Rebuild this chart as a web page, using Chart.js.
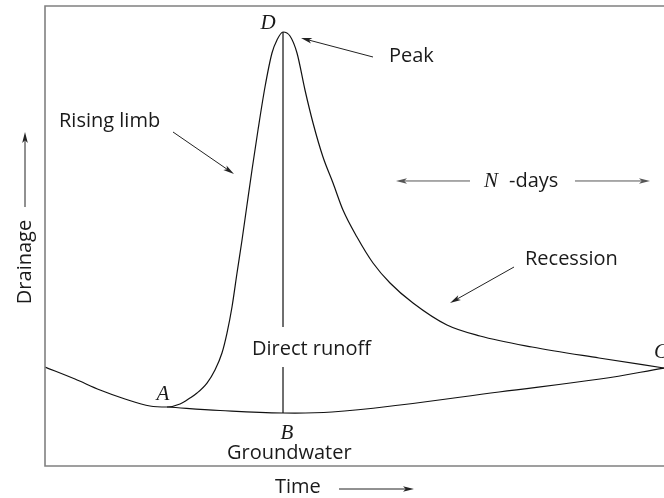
<!DOCTYPE html>
<html>
<head>
<meta charset="utf-8">
<script src="https://cdn.jsdelivr.net/npm/chart.js@4/dist/chart.umd.min.js"></script>
<style>
  html, body { margin: 0; padding: 0; background: #ffffff; }
  #c { display: block; }
</style>
</head>
<body>
<canvas id="c" width="664" height="498"></canvas>
<script>
// ---- Data (time 0..100, drainage 0..100, arbitrary units) ----
const hydroTime  = [0, 4.85, 8.89, 12.92, 16.96, 19.71, 21.81, 23.42, 24.56, 26.17, 27.46, 28.59, 29.40, 30.21, 31.02, 31.83, 32.63, 33.44, 34.41, 35.54, 36.67, 37.48, 38.45, 39.58, 40.71, 42.00, 43.30, 44.91, 46.53, 48.14, 50.40, 52.99, 55.74, 59.45, 64.94, 70.27, 78.68, 89.50, 100];
const hydroFlow  = [21.52, 18.91, 16.52, 14.57, 13.04, 12.83, 13.48, 14.78, 15.87, 18.04, 20.87, 24.57, 28.91, 34.57, 41.96, 49.13, 56.74, 64.35, 73.04, 82.39, 89.78, 92.61, 94.35, 93.48, 89.78, 81.74, 74.57, 67.17, 61.52, 55.65, 49.78, 44.13, 39.78, 35.43, 30.65, 28.26, 25.87, 23.48, 21.30];
const baseTime   = [19.71, 28.27, 38.45, 46.37, 57.35, 73.34, 89.66, 100];
const baseFlow   = [12.83, 12.07, 11.52, 11.74, 13.26, 16.09, 18.91, 21.30];
const peakTime   = 38.45;
const peakFlow   = 94.35;
const peakBase   = 11.52;
const gapTop     = 30.2;   // vertical line broken for the "Direct runoff" label
const gapBottom  = 21.5;

const hydroData = hydroTime.map((t, i) => ({ x: t, y: hydroFlow[i] }));
const baseData  = baseTime.map((t, i) => ({ x: t, y: baseFlow[i] }));
const peakData  = [
  { x: peakTime, y: peakFlow }, { x: peakTime, y: gapTop },
  { x: peakTime, y: null },
  { x: peakTime, y: gapBottom }, { x: peakTime, y: peakBase }
];

// ---- Annotation layout (in data units) ----
const SANS = '20px "Open Sans", sans-serif';
const SERIF_IT = 'italic 21px "Liberation Serif", "DejaVu Serif", serif';
const labels = [
  { text: 'Rising limb',   x: 2.26,  y: 73.7,  font: SANS, align: 'left' },
  { text: 'Peak',          x: 55.57, y: 87.83, font: SANS, align: 'left' },
  { text: 'D',             x: 36.03, y: 94.9,  font: SERIF_IT, align: 'center' },
  { text: 'N',             x: 70.92, y: 60.65, font: SERIF_IT, align: 'left' },
  { text: '-days',         x: 74.96, y: 60.65, font: SANS, align: 'left' },
  { text: 'Recession',     x: 77.54, y: 43.7,  font: SANS, align: 'left' },
  { text: 'Direct runoff', x: 33.44, y: 24.13, font: SANS, align: 'left' },
  { text: 'A',             x: 19.06, y: 14.35, font: SERIF_IT, align: 'center' },
  { text: 'B',             x: 39.10, y: 5.87,  font: SERIF_IT, align: 'center' },
  { text: 'Groundwater',   x: 29.40, y: 1.52,  font: SANS, align: 'left' },
  { text: 'C',             x: 98.38, y: 23.48, font: SERIF_IT, align: 'left' },
  { text: 'Time',          x: 37.16, y: -5.87, font: SANS, align: 'left' },
  { text: 'Drainage',      x: -2.26, y: 44.35, font: SANS, align: 'center', rotate: true }
];
const arrows = [
  { x1: 52.99, y1: 88.91, x2: 41.36, y2: 93.04, color: '#222' },
  { x1: 20.68, y1: 72.61, x2: 30.53, y2: 63.48, color: '#222' },
  { x1: 68.66, y1: 61.96, x2: 56.70, y2: 61.96, color: '#555' },
  { x1: 85.62, y1: 61.96, x2: 97.74, y2: 61.96, color: '#555' },
  { x1: 75.77, y1: 43.26, x2: 65.43, y2: 35.43, color: '#222' },
  { x1: -3.23, y1: 56.30, x2: -3.23, y2: 72.61, color: '#222' },
  { x1: 47.50, y1: -5.0,  x2: 59.61, y2: -5.0,  color: '#222' }
];

const decor = {
  id: 'decor',
  afterDatasetsDraw(chart) {
    const { ctx, chartArea: a, scales } = chart;
    const X = v => scales.x.getPixelForValue(v);
    const Y = v => scales.y.getPixelForValue(v);
    ctx.save();
    // frame: left, top, bottom
    ctx.strokeStyle = '#808080';
    ctx.lineWidth = 1.6;
    ctx.beginPath();
    ctx.moveTo(a.right + 2, a.top);
    ctx.lineTo(a.left, a.top);
    ctx.lineTo(a.left, a.bottom);
    ctx.lineTo(a.right + 2, a.bottom);
    ctx.stroke();
    // arrows
    arrows.forEach(ar => {
      const x1 = X(ar.x1), y1 = Y(ar.y1), x2 = X(ar.x2), y2 = Y(ar.y2);
      const ang = Math.atan2(y2 - y1, x2 - x1);
      const L = 11, W = 2.8;
      ctx.strokeStyle = ar.color;
      ctx.fillStyle = ar.color;
      ctx.lineWidth = 1;
      ctx.beginPath();
      ctx.moveTo(x1, y1);
      ctx.lineTo(x2 - Math.cos(ang) * L * 0.6, y2 - Math.sin(ang) * L * 0.6);
      ctx.stroke();
      ctx.beginPath();
      ctx.moveTo(x2, y2);
      ctx.lineTo(x2 - Math.cos(ang) * L - Math.sin(ang) * W, y2 - Math.sin(ang) * L + Math.cos(ang) * W);
      ctx.lineTo(x2 - Math.cos(ang) * L * 0.75, y2 - Math.sin(ang) * L * 0.75);
      ctx.lineTo(x2 - Math.cos(ang) * L + Math.sin(ang) * W, y2 - Math.sin(ang) * L - Math.cos(ang) * W);
      ctx.closePath();
      ctx.fill();
    });
    // labels
    ctx.fillStyle = '#1a1a1a';
    ctx.textBaseline = 'alphabetic';
    labels.forEach(l => {
      ctx.font = l.font;
      ctx.textAlign = l.align;
      if (l.rotate) {
        ctx.save();
        ctx.translate(X(l.x), Y(l.y));
        ctx.rotate(-Math.PI / 2);
        ctx.fillText(l.text, 0, 0);
        ctx.restore();
      } else {
        ctx.fillText(l.text, X(l.x), Y(l.y));
      }
    });
    ctx.restore();
  }
};

new Chart(document.getElementById('c'), {
  type: 'line',
  data: {
    datasets: [
      { label: 'Hydrograph', data: hydroData, borderColor: '#111', borderWidth: 1.2,
        pointRadius: 0, cubicInterpolationMode: 'monotone', fill: false },
      { label: 'Baseflow separation', data: baseData, borderColor: '#111', borderWidth: 1.2,
        pointRadius: 0, tension: 0.4, fill: false },
      { label: 'Peak line', data: peakData, borderColor: '#111', borderWidth: 1.2,
        pointRadius: 0, spanGaps: false, fill: false }
    ]
  },
  options: {
    responsive: false,
    animation: false,
    events: [],
    layout: { padding: { left: 45, right: 0, top: 6, bottom: 32 } },
    plugins: { legend: { display: false }, tooltip: { enabled: false } },
    scales: {
      x: { type: 'linear', min: 0, max: 100, display: false },
      y: { type: 'linear', min: 0, max: 100, display: false }
    }
  },
  plugins: [decor]
});
</script>
</body>
</html>
